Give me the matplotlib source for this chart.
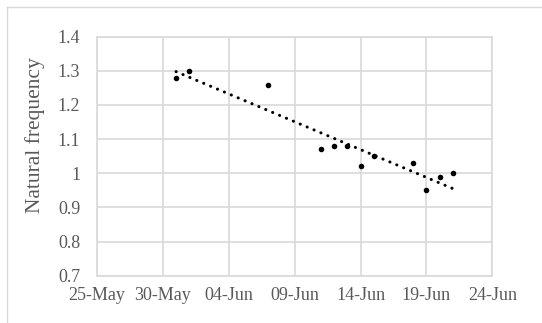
import numpy as np
import matplotlib
matplotlib.use("Agg")
import matplotlib.pyplot as plt
import matplotlib.dates as mdates
from matplotlib.lines import Line2D

# Measurement dates and natural frequency readings
dates = ["2021-05-31", "2021-06-01", "2021-06-07", "2021-06-11", "2021-06-12",
         "2021-06-13", "2021-06-14", "2021-06-15", "2021-06-18", "2021-06-19",
         "2021-06-20", "2021-06-21"]
freq = [1.28, 1.30, 1.26, 1.07, 1.08, 1.08, 1.02, 1.05, 1.03, 0.95, 0.99, 1.00]

y_ticks = [0.7, 0.8, 0.9, 1.0, 1.1, 1.2, 1.3, 1.4]
y_tick_labels = ["0.7", "0.8", "0.9", "1", "1.1", "1.2", "1.3", "1.4"]
x_start, x_end = "2021-05-25", "2021-06-24"

plt.rcParams["font.family"] = ["Liberation Serif", "DejaVu Serif"]

W, H = 542, 323
fig = plt.figure(figsize=(W / 100, H / 100), dpi=100)
ax = fig.add_axes([97 / W, 1 - 275.7 / H, (492.3 - 97) / W, (275.7 - 36.7) / H])

x = mdates.datestr2num(dates)
y = np.array(freq)

grid_c = "#d9d9d9"
text_c = "#595959"

ax.scatter(x, y, s=16, color="black", zorder=3, linewidths=0)

# Linear trendline over the measured range
coef = np.polyfit(x, y, 1)
xt = np.array([x.min(), x.max()])
ax.plot(xt, np.polyval(coef, xt), color="black", lw=2.2,
        linestyle=(0, (0.05, 2.4)), dash_capstyle="round", zorder=2)

x0 = mdates.datestr2num(x_start)
x1 = mdates.datestr2num(x_end)
ax.set_xlim(x0, x1)
ax.set_ylim(0.7, 1.4)
ax.set_xticks(np.arange(x0, x1 + 0.5, 5))
ax.xaxis.set_major_formatter(mdates.DateFormatter("%d-%b"))
ax.set_yticks(y_ticks)
ax.set_yticklabels(y_tick_labels)

ax.grid(True, color=grid_c, lw=1.2)
ax.set_axisbelow(True)
for s in ax.spines.values():
    s.set_color(grid_c)
    s.set_linewidth(1.2)
ax.tick_params(length=0, labelsize=13, colors=text_c)
ax.tick_params(axis="x", pad=8)
ax.tick_params(axis="y", pad=12)

ax.set_ylabel("Natural frequency", fontsize=15.5, color=text_c, va="center")
ax.yaxis.set_label_coords(35 / W, 1 - 135 / H, transform=fig.transFigure)

# Chart area outline
fig.add_artist(Line2D([7 / W, 7 / W], [0, 1 - 7 / H], transform=fig.transFigure,
                      color=grid_c, lw=1.0))
fig.add_artist(Line2D([7 / W, 1], [1 - 7 / H, 1 - 7 / H], transform=fig.transFigure,
                      color=grid_c, lw=1.0))

fig.savefig("out.png", dpi=100, facecolor="white")
